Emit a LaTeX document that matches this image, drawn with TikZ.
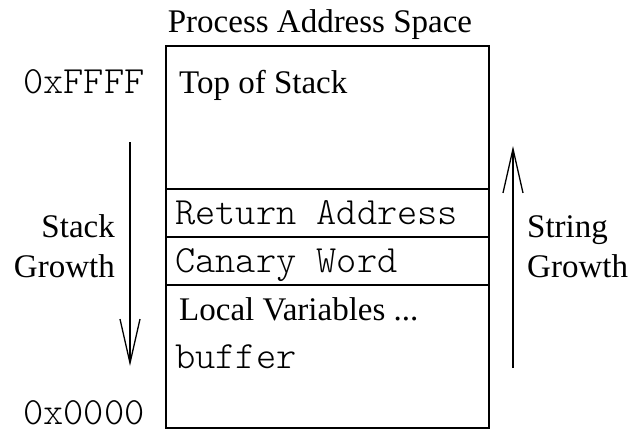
\documentclass[tikz,border=0pt]{standalone}
\usepackage{fontspec}
\setmainfont{Liberation Serif}
\setmonofont{Latin Modern Mono Light}
\usetikzlibrary{arrows.meta}
\begin{document}
\begin{tikzpicture}[x=1pt,y=-1pt,
  txt/.style={inner sep=0pt,font=\fontsize{33}{40}\selectfont},
  mono/.style={inner sep=0pt,font=\fontsize{38.5}{44}\selectfont\ttfamily},
  frame/.style={draw=black,line width=1.2pt},
  growth/.style={draw=black,line width=1.4pt,-{Straight Barb[length=44pt,width=20pt,line width=1.3pt]}}]
\useasboundingbox (0,0) rectangle (638,431);
% box
\draw[frame] (166,46) rectangle (489,428);
\draw[frame] (166,189) -- (489,189);
\draw[frame] (166,237) -- (489,237);
\draw[frame] (166,285) -- (489,285);
% texts
\node[txt,anchor=base] (title) at (320,32) {Process Address Space};
\node[mono,anchor=base west] (hi) at (23,93) {0xFFFF};
\node[mono,anchor=base west] (lo) at (23,424) {0x0000};
\node[txt,anchor=base west] (top) at (179,93) {Top of Stack};
\node[mono,anchor=base west] (ret) at (175,224) {Return Address};
\node[mono,anchor=base west] (can) at (175,272) {Canary Word};
\node[txt,anchor=base west] (loc) at (179,320) {Local Variables ...};
\node[mono,anchor=base west] (buf) at (175,368) {buffer};
\node[txt,anchor=base east] (sg1) at (115,237) {Stack};
\node[txt,anchor=base east] (sg2) at (115,277) {Growth};
\node[txt,anchor=base west] (st1) at (527,237) {String};
\node[txt,anchor=base west] (st2) at (527,277) {Growth};
% arrows
\coordinate (a1) at (130,142);
\coordinate (a2) at (130,366);
\coordinate (b1) at (513,368);
\coordinate (b2) at (513,146);
\draw[growth] (a1) -- (a2);
\draw[growth] (b1) -- (b2);
\end{tikzpicture}
\end{document}
